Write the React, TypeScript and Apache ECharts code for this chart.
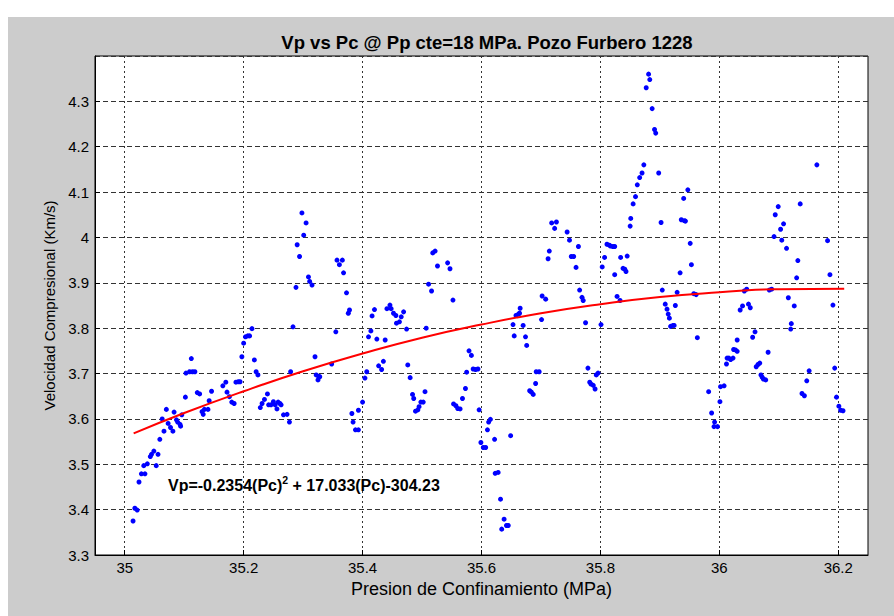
import React, { useEffect, useRef } from "react";
import * as echarts from "echarts";

const FONT = '"Liberation Sans", Arial, Helvetica, sans-serif';

const titleText = "Vp vs Pc @ Pp cte=18 MPa. Pozo Furbero 1228";
const xAxisName = "Presion de Confinamiento (MPa)";
const yAxisName = "Velocidad Compresional (Km/s)";

const xTicks = [35, 35.2, 35.4, 35.6, 35.8, 36, 36.2];

// Confining pressure (MPa) of each sample
const pc: number[] = [
  35.014, 35.017, 35.021, 35.024, 35.028, 35.032, 35.034, 35.038, 35.043, 35.045,
  35.049, 35.053, 35.056, 35.059, 35.063, 35.066, 35.070, 35.073, 35.077, 35.081,
  35.083, 35.087, 35.089, 35.093, 35.094, 35.096, 35.102, 35.103, 35.109, 35.112,
  35.114, 35.118, 35.122, 35.126, 35.130, 35.132, 35.134, 35.140, 35.142, 35.146,
  35.165, 35.170, 35.172, 35.176, 35.180, 35.184, 35.187, 35.191, 35.194, 35.197,
  35.200, 35.203, 35.207, 35.210, 35.214,
  35.218, 35.221, 35.224, 35.228, 35.231, 35.235, 35.240, 35.242, 35.246, 35.250,
  35.253, 35.256, 35.258, 35.261, 35.263, 35.267, 35.273, 35.277, 35.279, 35.283,
  35.288, 35.290, 35.294, 35.298, 35.301, 35.305, 35.309, 35.311, 35.315, 35.320,
  35.322, 35.325, 35.326, 35.328, 35.348, 35.355, 35.357, 35.361, 35.366, 35.368,
  35.373, 35.376, 35.378, 35.382, 35.384, 35.388, 35.393, 35.393, 35.400, 35.404,
  35.407, 35.410, 35.414, 35.416, 35.420,
  35.424, 35.427, 35.432, 35.435, 35.438, 35.441, 35.446, 35.448, 35.452, 35.456,
  35.457, 35.462, 35.465, 35.469, 35.474, 35.476, 35.480, 35.484, 35.486, 35.489,
  35.493, 35.495, 35.498, 35.502, 35.505, 35.507, 35.511, 35.516, 35.518, 35.522,
  35.526, 35.543, 35.547, 35.552, 35.553, 35.557, 35.560, 35.564, 35.568, 35.573,
  35.575, 35.579, 35.583, 35.586, 35.590, 35.594, 35.596, 35.599, 35.603, 35.607,
  35.610, 35.612, 35.615,
  35.622, 35.623, 35.628, 35.632, 35.634, 35.638, 35.642, 35.645, 35.649, 35.653,
  35.655, 35.658, 35.662, 35.664, 35.665, 35.670, 35.674, 35.676, 35.681, 35.684,
  35.687, 35.691, 35.692, 35.697, 35.701, 35.702, 35.708, 35.712, 35.714, 35.718,
  35.723, 35.726, 35.744, 35.748, 35.751, 35.755, 35.759, 35.763, 35.765, 35.769,
  35.771, 35.775, 35.779, 35.782, 35.784, 35.788, 35.791, 35.793, 35.796, 35.801,
  35.803, 35.807, 35.811, 35.815,
  35.817, 35.821, 35.824, 35.824, 35.828, 35.833, 35.834, 35.838, 35.841, 35.843,
  35.845, 35.850, 35.851, 35.855, 35.859, 35.862, 35.866, 35.870, 35.873, 35.877,
  35.881, 35.883, 35.887, 35.891, 35.893, 35.898, 35.902, 35.904, 35.909, 35.912,
  35.914, 35.916, 35.918, 35.922, 35.924, 35.926, 35.929, 35.934, 35.936, 35.940,
  35.941, 35.943, 35.947, 35.951, 35.953, 35.957, 35.961, 35.963, 35.982, 35.987,
  35.991, 35.992, 35.997, 36.001, 36.002, 36.008,
  36.012, 36.013, 36.016, 36.019, 36.023, 36.024, 36.027, 36.030, 36.030, 36.035,
  36.039, 36.042, 36.046, 36.049, 36.052, 36.056, 36.060, 36.062, 36.065, 36.068,
  36.070, 36.072, 36.074, 36.078, 36.082, 36.084, 36.088, 36.092, 36.094, 36.099,
  36.103, 36.105, 36.108, 36.113, 36.116, 36.120, 36.121, 36.126, 36.130, 36.132,
  36.136, 36.139, 36.143, 36.147, 36.151, 36.164, 36.182, 36.186, 36.191, 36.194,
  36.197, 36.201, 36.204, 36.208,
];

// Compressional velocity (km/s) of each sample
const vp: number[] = [
  3.375, 3.403, 3.399, 3.461, 3.479, 3.497, 3.479, 3.501, 3.517, 3.522,
  3.529, 3.497, 3.522, 3.555, 3.600, 3.573, 3.621, 3.590, 3.581, 3.573,
  3.615, 3.598, 3.593, 3.588, 3.584, 3.609, 3.648, 3.701, 3.704, 3.733,
  3.704, 3.704, 3.658, 3.655, 3.616, 3.610, 3.621, 3.621, 3.640, 3.661,
  3.673, 3.681, 3.659, 3.649, 3.637, 3.634, 3.681, 3.682, 3.682, 3.737,
  3.767, 3.781, 3.783, 3.783, 3.799,
  3.730, 3.704, 3.697, 3.625, 3.634, 3.643, 3.655, 3.631, 3.631, 3.638,
  3.631, 3.622, 3.637, 3.634, 3.631, 3.609, 3.610, 3.593, 3.704, 3.803,
  3.890, 3.984, 3.958, 4.054, 4.005, 4.032, 3.913, 3.903, 3.895, 3.737,
  3.697, 3.686, 3.694, 3.693, 3.721, 3.792, 3.950, 3.940, 3.950, 3.922,
  3.878, 3.833, 3.840, 3.612, 3.593, 3.576, 3.576, 3.619, 3.637, 3.690,
  3.704, 3.781, 3.794, 3.827, 3.841,
  3.776, 3.717, 3.709, 3.727, 3.774, 3.843, 3.851, 3.843, 3.833, 3.828,
  3.811, 3.814, 3.825, 3.836, 3.798, 3.719, 3.691, 3.654, 3.645, 3.617,
  3.620, 3.627, 3.637, 3.637, 3.660, 3.800, 3.897, 3.882, 3.966, 3.970,
  3.937, 3.944, 3.931, 3.862, 3.633, 3.629, 3.623, 3.622, 3.645, 3.667,
  3.703, 3.750, 3.740, 3.710, 3.709, 3.710, 3.620, 3.548, 3.537, 3.537,
  3.576, 3.593, 3.599,
  3.555, 3.480, 3.482, 3.423, 3.357, 3.379, 3.365, 3.365, 3.563, 3.808,
  3.783, 3.828, 3.831, 3.833, 3.844, 3.806, 3.781, 3.762, 3.662, 3.659,
  3.654, 3.678, 3.704, 3.704, 3.819, 3.871, 3.864, 3.953, 3.970, 4.032,
  4.020, 4.034, 4.012, 3.994, 3.958, 3.958, 3.934, 3.980, 3.884, 3.868,
  3.861, 3.812, 3.712, 3.681, 3.677, 3.674, 3.666, 3.697, 3.701, 3.808,
  3.935, 3.956, 3.985, 3.983,
  3.981, 3.980, 3.980, 3.918, 3.870, 3.861, 3.956, 3.932, 3.930, 3.925,
  3.959, 4.025, 4.042, 4.074, 4.090, 4.116, 4.132, 4.142, 4.160, 4.330,
  4.360, 4.348, 4.284, 4.238, 4.230, 4.142, 4.033, 3.884, 3.853, 3.842,
  3.831, 3.822, 3.804, 3.806, 3.806, 3.850, 3.879, 3.922, 4.039, 4.086,
  4.037, 4.036, 4.105, 3.987, 3.940, 3.876, 3.874, 3.779, 3.660, 3.613,
  3.583, 3.593, 3.583, 3.638, 3.671, 3.673,
  3.721, 3.734, 3.734, 3.731, 3.734, 3.753, 3.752, 3.749, 3.774, 3.840,
  3.849, 3.882, 3.886, 3.853, 3.845, 3.780, 3.792, 3.715, 3.720, 3.723,
  3.697, 3.692, 3.688, 3.686, 3.747, 3.884, 3.886, 4.002, 4.050, 4.068,
  4.018, 3.994, 4.030, 3.976, 3.867, 3.798, 3.810, 3.849, 3.911, 3.949,
  4.074, 3.656, 3.651, 3.684, 3.706, 4.160, 3.993, 3.918, 3.851, 3.712,
  3.648, 3.628, 3.619, 3.618,
];

// Points
const fitPc = [35.015, 35.1, 35.2, 35.3, 35.4, 35.5, 35.6, 35.7, 35.8, 35.9, 36.0, 36.1, 36.21];
const fitVp = [3.568, 3.613, 3.661, 3.705, 3.744, 3.779, 3.808, 3.833, 3.853, 3.869, 3.879, 3.886, 3.887];

const fmt = (v: number) => String(+Number(v).toFixed(2));

export default function App() {
  const ref = useRef<HTMLDivElement>(null);

  useEffect(() => {
    if (!ref.current) return;
    const chart = echarts.init(ref.current, null, { renderer: "svg" });
    const n = Math.min(pc.length, vp.length);
    const scatterData: number[][] = [];
    for (let i = 0; i < n; i++) scatterData.push([pc[i], vp[i]]);
    const fitData = fitPc.map((x, i) => [x, fitVp[i]]);

    chart.setOption({
      animation: false,
      backgroundColor: "#cccccc",
      title: {
        text: titleText,
        left: 479,
        top: 16,
        textAlign: "center",
        padding: 0,
        textStyle: { fontFamily: FONT, fontSize: 18.5, fontWeight: "bold", color: "#000" },
      },
      grid: {
        left: 87,
        top: 39,
        right: 26,
        bottom: 61,
        show: true,
        backgroundColor: "#ffffff",
        borderColor: "#000",
        borderWidth: 1,
      },
      xAxis: {
        type: "value",
        min: 34.95,
        max: 36.25,
        name: xAxisName,
        nameLocation: "middle",
        nameGap: 20,
        nameTextStyle: { fontFamily: FONT, fontSize: 18, color: "#000" },
        axisLine: { show: true, onZero: false, lineStyle: { color: "#000", width: 1 } },
        axisTick: { show: true, inside: true, length: 5, customValues: xTicks, lineStyle: { color: "#000" } },
        axisLabel: {
          customValues: xTicks,
          formatter: (v: number) => fmt(v),
          fontFamily: FONT,
          fontSize: 15,
          color: "#000",
          margin: 5,
        },
        splitLine: { show: true, lineStyle: { type: [2, 3], color: "#333", width: 1 } },
      },
      yAxis: {
        type: "value",
        min: 3.3,
        max: 4.4,
        interval: 0.1,
        name: yAxisName,
        nameLocation: "middle",
        nameGap: 34,
        nameTextStyle: { fontFamily: FONT, fontSize: 15, color: "#000" },
        axisLine: { show: true, onZero: false, lineStyle: { color: "#000", width: 1 } },
        axisTick: { show: true, inside: true, length: 5, lineStyle: { color: "#000" } },
        axisLabel: {
          showMaxLabel: false,
          formatter: (v: number) => fmt(v),
          fontFamily: FONT,
          fontSize: 15,
          color: "#000",
          margin: 6,
        },
        splitLine: { show: true, lineStyle: { type: [5, 3], color: "#333", width: 1 } },
      },
      series: [
        {
          type: "scatter",
          data: scatterData,
          symbol: "circle",
          symbolSize: 5,
          itemStyle: { color: "#0000ff", opacity: 1 },
          z: 2,
        },
        {
          type: "line",
          data: fitData,
          smooth: true,
          showSymbol: false,
          symbol: "none",
          lineStyle: { color: "#ff0000", width: 2 },
          z: 3,
        },
      ],
      graphic: [
        {
          type: "text",
          left: 160,
          top: 457,
          z: 10,
          style: {
            text: "{b|Vp=-0.2354(Pc)}{s|2}{b| + 17.033(Pc)-304.23}",
            fill: "#000",
            rich: {
              b: { fontFamily: FONT, fontSize: 16, fontWeight: "bold", fill: "#000", lineHeight: 19, verticalAlign: "bottom" },
              s: { fontFamily: FONT, fontSize: 10.5, fontWeight: "bold", fill: "#000", lineHeight: 10, verticalAlign: "top" },
            },
          },
        },
      ],
    });
    return () => chart.dispose();
  }, []);

  return (
    <div
      ref={ref}
      style={{ position: "fixed", left: 8, top: 17, width: 886, height: 599, background: "#cccccc" }}
    />
  );
}
